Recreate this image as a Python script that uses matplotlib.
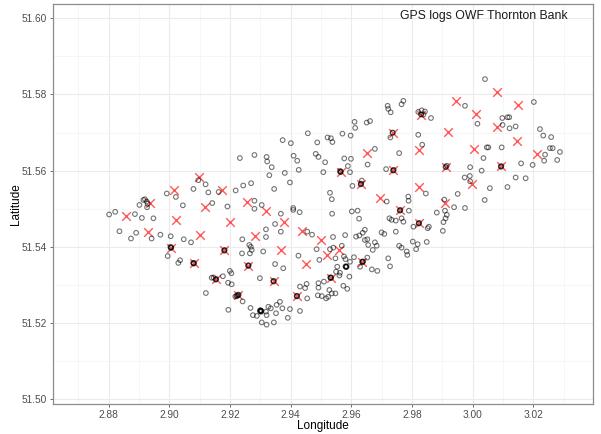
import matplotlib
matplotlib.use("Agg")
import matplotlib.pyplot as plt
from matplotlib.ticker import MultipleLocator
import numpy as np

# turbine positions (lon, lat)
turb_lon = [2.8858, 2.8931, 2.8937, 2.9017, 2.9022, 2.9098, 2.9102, 2.9118, 2.9173, 2.9201, 2.9256,
            2.9283, 2.9318, 2.9367, 2.9378, 2.9438, 2.9451, 2.9499, 2.9519, 2.9561, 2.9652, 2.9695,
            2.9006, 2.9081, 2.9154, 2.9182, 2.9228, 2.9261, 2.9344, 2.9421, 2.9533, 2.9637, 2.9565,
            2.9632, 2.9739, 2.9737, 2.9761,
            2.9945, 3.0082, 3.0150, 3.0011, 3.0080, 2.9918, 2.9830, 3.0146, 2.9824, 3.0005, 3.0213,
            2.9911, 3.0094, 2.9824, 2.9997, 2.9909, 2.9823]
turb_lat = [51.5480, 51.5439, 51.5515, 51.5548, 51.5471, 51.5582, 51.5432, 51.5504, 51.5550, 51.5466, 51.5517,
            51.5429, 51.5493, 51.5392, 51.5466, 51.5443, 51.5355, 51.5418, 51.5379, 51.5393, 51.5646, 51.5529,
            51.5398, 51.5357, 51.5315, 51.5391, 51.5274, 51.5351, 51.5310, 51.5271, 51.5319, 51.5361, 51.5597,
            51.5565, 51.5601, 51.5699, 51.5496,
            51.5783, 51.5807, 51.5773, 51.5749, 51.5714, 51.5701, 51.5747, 51.5679, 51.5653, 51.5657, 51.5644,
            51.5609, 51.5611, 51.5558, 51.5565, 51.5514, 51.5462]

# GPS fixes, west part
gps_west = [
    (2.8802, 51.5485), (2.8822, 51.5492), (2.8836, 51.5441), (2.8874, 51.5422), (2.8887, 51.5486),
    (2.8891, 51.5437), (2.8902, 51.5510), (2.8910, 51.5476), (2.8915, 51.5523), (2.8920, 51.5525),
    (2.8926, 51.5519), (2.8929, 51.5513), (2.8927, 51.5504), (2.8942, 51.5422), (2.8948, 51.5475),
    (2.8971, 51.5432), (2.8992, 51.5540), (2.8995, 51.5376), (2.9005, 51.5428), (2.9022, 51.5531),
    (2.9030, 51.5358), (2.9036, 51.5365), (2.9045, 51.5509), (2.9048, 51.5420), (2.9072, 51.5412),
    (2.9080, 51.5552), (2.9096, 51.5575), (2.9120, 51.5564), (2.9129, 51.5543), (2.9142, 51.5515),
    (2.9121, 51.5279), (2.9140, 51.5319), (2.9146, 51.5320), (2.9177, 51.5323), (2.9192, 51.5506),
    (2.9163, 51.5544), (2.9194, 51.5306), (2.9206, 51.5302), (2.9200, 51.5337), (2.9205, 51.5331),
    (2.9219, 51.5548), (2.9240, 51.5383), (2.9241, 51.5420), (2.9244, 51.5561), (2.9264, 51.5405),
    (2.9269, 51.5400), (2.9272, 51.5392), (2.9270, 51.5567), (2.9233, 51.5633), (2.9242, 51.5257),
    (2.9195, 51.5235), (2.9268, 51.5240), (2.9276, 51.5221), (2.9289, 51.5219),
    # stacked fixes at turbines
    (2.9005, 51.5398), (2.9007, 51.5399), (2.9006, 51.5397), (2.9004, 51.5400),
    (2.9080, 51.5357), (2.9082, 51.5358), (2.9081, 51.5356), (2.9079, 51.5358),
    (2.9153, 51.5315), (2.9155, 51.5316), (2.9154, 51.5314),
    (2.9181, 51.5391), (2.9183, 51.5392), (2.9182, 51.5390),
    (2.9218, 51.5270), (2.9222, 51.5272), (2.9226, 51.5274), (2.9229, 51.5275), (2.9224, 51.5271),
    (2.9228, 51.5273),
    (2.9260, 51.5351), (2.9262, 51.5352), (2.9261, 51.5350),
]

# GPS fixes, north-central part
gps_north = [
    (2.9720, 51.5770), (2.9722, 51.5762), (2.9730, 51.5753), (2.9766, 51.5774), (2.9772, 51.5783),
    (2.9651, 51.5726), (2.9662, 51.5730), (2.9611, 51.5728), (2.9613, 51.5712), (2.9598, 51.5692),
    (2.9571, 51.5697), (2.9522, 51.5687), (2.9533, 51.5685), (2.9538, 51.5675), (2.9457, 51.5698),
    (2.9374, 51.5680), (2.9401, 51.5672), (2.9488, 51.5674), (2.9729, 51.5687), (2.9678, 51.5657),
    (2.9758, 51.5646), (2.9281, 51.5641), (2.9321, 51.5636), (2.9323, 51.5624), (2.9338, 51.5609),
    (2.9410, 51.5639), (2.9422, 51.5626), (2.9483, 51.5644), (2.9492, 51.5636), (2.9514, 51.5622),
    (2.9577, 51.5632), (2.9599, 51.5631), (2.9589, 51.5612), (2.9596, 51.5596), (2.9654, 51.5616),
    (2.9715, 51.5604), (2.9381, 51.5594), (2.9427, 51.5602), (2.9508, 51.5596), (2.9330, 51.5588),
    (2.9398, 51.5569), (2.9346, 51.5552), (2.9530, 51.5542), (2.9536, 51.5525), (2.9604, 51.5560),
    (2.9635, 51.5574), (2.9717, 51.5519), (2.9788, 51.5532), (2.9789, 51.5521), (2.9409, 51.5502),
    (2.9305, 51.5510), (2.9281, 51.5521), (2.9281, 51.5500),
    # stacked fixes at turbines
    (2.9564, 51.5597), (2.9566, 51.5598), (2.9565, 51.5596), (2.9563, 51.5599),
    (2.9632, 51.5565), (2.9633, 51.5566), (2.9631, 51.5564),
    (2.9739, 51.5601), (2.9740, 51.5602), (2.9738, 51.5600),
    (2.9737, 51.5699), (2.9736, 51.5700),
    (2.9761, 51.5496), (2.9762, 51.5497), (2.9760, 51.5495),
]

# GPS fixes, south-central part
gps_south = [
    (2.9368, 51.5487), (2.9409, 51.5497), (2.9430, 51.5491), (2.9349, 51.5460), (2.9368, 51.5440),
    (2.9319, 51.5446), (2.9319, 51.5426), (2.9455, 51.5440), (2.9471, 51.5432), (2.9537, 51.5487),
    (2.9602, 51.5493), (2.9621, 51.5495), (2.9626, 51.5474), (2.9580, 51.5431), (2.9540, 51.5426),
    (2.9616, 51.5427), (2.9627, 51.5430), (2.9638, 51.5437), (2.9645, 51.5445), (2.9645, 51.5418),
    (2.9656, 51.5405), (2.9678, 51.5412), (2.9684, 51.5403), (2.9709, 51.5434), (2.9747, 51.5440),
    (2.9726, 51.5475), (2.9733, 51.5471), (2.9747, 51.5469), (2.9766, 51.5475), (2.9772, 51.5466),
    (2.9758, 51.5403), (2.9766, 51.5398), (2.9783, 51.5388), (2.9785, 51.5379), (2.9722, 51.5370),
    (2.9728, 51.5349), (2.9686, 51.5337), (2.9668, 51.5341), (2.9653, 51.5372), (2.9609, 51.5373),
    (2.9596, 51.5361), (2.9629, 51.5348), (2.9594, 51.5322), (2.9530, 51.5394), (2.9541, 51.5398),
    (2.9576, 51.5375), (2.9581, 51.5368), (2.9548, 51.5370), (2.9495, 51.5366), (2.9554, 51.5348),
    (2.9550, 51.5335), (2.9563, 51.5332), (2.9561, 51.5325), (2.9426, 51.5377), (2.9310, 51.5388),
    (2.9349, 51.5355), (2.9376, 51.5344), (2.9299, 51.5318), (2.9453, 51.5303), (2.9431, 51.5296),
    (2.9448, 51.5292), (2.9492, 51.5305), (2.9492, 51.5293), (2.9510, 51.5309), (2.9528, 51.5287),
    (2.9536, 51.5278), (2.9574, 51.5298), (2.9587, 51.5290), (2.9548, 51.5278), (2.9490, 51.5273),
    (2.9503, 51.5271), (2.9517, 51.5265), (2.9524, 51.5269), (2.9455, 51.5265), (2.9398, 51.5237),
    (2.9431, 51.5232), (2.9365, 51.5256), (2.9354, 51.5248), (2.9335, 51.5239), (2.9352, 51.5226),
    (2.9327, 51.5243), (2.9319, 51.5230), (2.9321, 51.5221), (2.9305, 51.5202), (2.9321, 51.5196),
    (2.9345, 51.5202), (2.9391, 51.5214), (2.9266, 51.5383), (2.9373, 51.5239), (2.9671, 51.5392),
    (2.9700, 51.5438), (2.9653, 51.5420), (2.9569, 51.5403), (2.9486, 51.5394),
    # dense clusters
    (2.9300, 51.5231), (2.9302, 51.5233), (2.9303, 51.5230), (2.9301, 51.5234), (2.9304, 51.5232),
    (2.9299, 51.5233), (2.9302, 51.5231),
    (2.9343, 51.5310), (2.9345, 51.5311), (2.9344, 51.5309),
    (2.9420, 51.5271), (2.9422, 51.5272), (2.9421, 51.5270),
    (2.9532, 51.5319), (2.9534, 51.5320), (2.9533, 51.5318), (2.9531, 51.5320),
    (2.9582, 51.5348), (2.9584, 51.5349), (2.9583, 51.5347), (2.9585, 51.5348), (2.9581, 51.5349),
    (2.9636, 51.5361), (2.9638, 51.5362), (2.9637, 51.5360), (2.9639, 51.5361),
]

# GPS fixes, east part
gps_east = [
    (3.0041, 51.5840), (3.0202, 51.5780), (2.9975, 51.5770), (2.9821, 51.5754), (2.9832, 51.5758),
    (2.9843, 51.5755), (2.9838, 51.5747), (2.9863, 51.5738), (3.0016, 51.5723), (3.0098, 51.5738),
    (3.0115, 51.5740), (3.0121, 51.5740), (3.0099, 51.5720), (3.0122, 51.5711), (3.0142, 51.5716),
    (3.0222, 51.5709), (3.0233, 51.5692), (3.0259, 51.5688), (2.9821, 51.5694), (2.9834, 51.5668),
    (3.0047, 51.5661), (3.0052, 51.5661), (3.0096, 51.5661), (3.0255, 51.5659), (3.0264, 51.5659),
    (3.0288, 51.5649), (3.0239, 51.5642), (3.0279, 51.5628), (3.0236, 51.5626), (3.0036, 51.5633),
    (3.0198, 51.5615), (3.0160, 51.5619), (2.9915, 51.5613), (2.9992, 51.5609), (3.0030, 51.5600),
    (2.9974, 51.5582), (2.9991, 51.5586), (2.9992, 51.5572), (3.0142, 51.5582), (3.0175, 51.5580),
    (3.0057, 51.5554), (3.0115, 51.5557), (2.9846, 51.5540), (2.9951, 51.5539), (3.0040, 51.5523),
    (2.9907, 51.5524), (2.9790, 51.5495), (2.9939, 51.5504), (2.9975, 51.5502), (2.9882, 51.5490),
    (2.9909, 51.5495), (2.9915, 51.5484), (2.9911, 51.5475), (2.9904, 51.5465), (2.9805, 51.5453),
    (2.9852, 51.5449), (2.9856, 51.5453), (2.9902, 51.5442), (2.9803, 51.5414), (2.9819, 51.5407),
    (2.9814, 51.5394), (2.9849, 51.5413),
    # stacked fixes at turbines
    (2.9830, 51.5748), (2.9831, 51.5747),
    (2.9911, 51.5610), (2.9912, 51.5609),
    (3.0093, 51.5611), (3.0095, 51.5612), (3.0094, 51.5610),
    (2.9823, 51.5462), (2.9824, 51.5463), (2.9822, 51.5461),
]

gps = np.array(gps_west + gps_north + gps_south + gps_east)

fig = plt.figure(figsize=(6.01, 4.34), dpi=100)
ax = fig.add_axes([53 / 601, 30 / 434, 540 / 601, 400 / 434])

ax.set_xlim(2.8617, 3.0397)
ax.set_ylim(51.4988, 51.6037)
ax.xaxis.set_major_locator(MultipleLocator(0.02))
ax.xaxis.set_minor_locator(MultipleLocator(0.01))
ax.yaxis.set_major_locator(MultipleLocator(0.02))
ax.yaxis.set_minor_locator(MultipleLocator(0.01))
ax.xaxis.set_major_formatter(lambda v, p: f"{v:.2f}")
ax.yaxis.set_major_formatter(lambda v, p: f"{v:.2f}")

ax.grid(which="major", color="#EBEBEB", linewidth=0.8)
ax.grid(which="minor", color="#F3F3F3", linewidth=0.5)
ax.set_axisbelow(True)

for s in ax.spines.values():
    s.set_color("#8c8c8c")
    s.set_linewidth(0.9)

ax.tick_params(which="major", length=2.5, width=0.6, color="#555555",
               labelsize=7.3, labelcolor="#4D4D4D", pad=2)
ax.tick_params(which="minor", length=0)
for lab in ax.get_xticklabels() + ax.get_yticklabels():
    lab.set_family("Liberation Sans")

ax.scatter(turb_lon, turb_lat, marker="x", s=38, color="#FF2020", alpha=0.75, linewidths=1.0, zorder=2)
ax.scatter(gps[:, 0], gps[:, 1], marker="o", s=11, facecolors="none", edgecolors="black",
           alpha=0.55, linewidths=0.8, zorder=3)

ax.set_xlabel("Longitude", fontsize=8.5, family="Liberation Sans")
ax.set_ylabel("Latitude", fontsize=8.5, family="Liberation Sans")
ax.xaxis.set_label_coords(0.5, -16 / 400)
ax.yaxis.set_label_coords(-31 / 540, 0.5)

ax.text(3.0315, 51.6005, "GPS logs OWF Thornton Bank", ha="right", va="center",
        fontsize=8.8, family="Liberation Sans", color="#1a1a1a")

fig.savefig("out.png", dpi=100)
